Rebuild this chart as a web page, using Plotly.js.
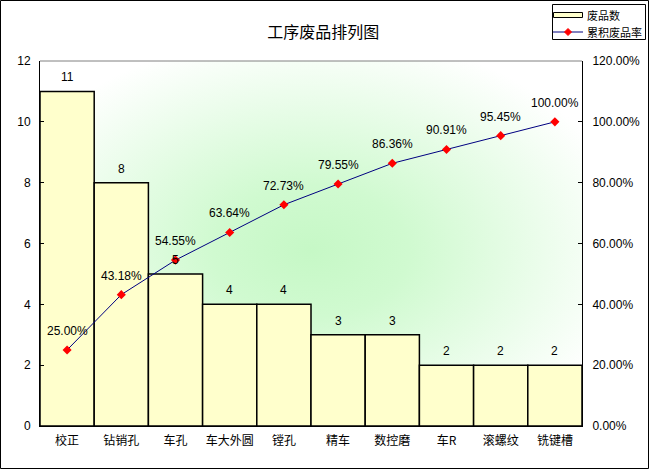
<!DOCTYPE html>
<html>
<head>
<meta charset="utf-8">
<script src="https://cdn.plot.ly/plotly-3.0.1.min.js"></script>
<style>
  html, body { margin: 0; padding: 0; background: #fff; }
  #chart { width: 649px; height: 469px; }
</style>
</head>
<body>
<div id="chart"></div>
<script>
// 数据
const categories = ['校正', '钻销孔', '车孔', '车大外圆', '镗孔', '精车', '数控磨', '车R', '滚螺纹', '铣键槽'];
const defects = [11, 8, 5, 4, 4, 3, 3, 2, 2, 2];
const cumRate = [0.25, 0.4318, 0.5455, 0.6364, 0.7273, 0.7955, 0.8636, 0.9091, 0.9545, 1.0];
const seriesNames = ['废品数', '累积废品率'];

const W = 649, H = 469;
const M = { l: 40, r: 67, t: 61, b: 43, autoexpand: false };
const pw = W - M.l - M.r, ph = H - M.t - M.b;

// 像素 -> paper 坐标
const px = x => (x - M.l) / pw;
const py = y => (H - M.b - y) / ph;

// 绘图区的径向渐变背景
function gradientImage() {
    const c = document.createElement('canvas');
    c.width = pw; c.height = ph;
    const g = c.getContext('2d');
    g.fillStyle = '#ffffff';
    g.fillRect(0, 0, pw, ph);
    g.save();
    g.translate(pw * 0.5, ph * 0.52);
    g.scale(1, ph / pw);
    const rg = g.createRadialGradient(0, 0, 0, 0, 0, pw * 0.6);
    rg.addColorStop(0, 'rgb(198,248,198)');
    rg.addColorStop(0.3, 'rgb(208,250,208)');
    rg.addColorStop(1, 'rgb(255,255,255)');
    g.fillStyle = rg;
    g.fillRect(-pw, -pw, pw * 2, pw * 2);
    g.restore();
    return c.toDataURL('image/png');
}

const cjk = '"Noto Sans CJK SC", "Liberation Sans", sans-serif';
const latin = '"Liberation Sans", Arial, sans-serif';

const barTrace = {
    type: 'bar', name: seriesNames[0],
    x: categories, y: defects,
    marker: { color: '#ffffcc', line: { color: '#000', width: 1.5 } }
};
const lineTrace = {
    type: 'scatter', mode: 'lines+markers', name: seriesNames[1],
    x: categories, y: cumRate, yaxis: 'y2',
    line: { color: '#000080', width: 1 },
    marker: { color: '#ff0000', symbol: 'diamond', size: 7 }
};

// 数值标签
let annotations = [];
defects.forEach((v, i) => annotations.push({
    x: categories[i], y: v, xref: 'x', yref: 'y', text: String(v),
    showarrow: false, yanchor: 'middle', yshift: 14,
    font: { family: latin, size: 12, color: '#000' }
}));
cumRate.forEach((v, i) => annotations.push({
    x: categories[i], y: v, xref: 'x', yref: 'y2', text: (v * 100).toFixed(2) + '%',
    showarrow: false, yanchor: 'middle', yshift: 19,
    font: { family: latin, size: 12, color: '#000' }
}));

// 图例 (手工绘制)
seriesNames.forEach((n, i) => annotations.push({
    x: px(585), y: py(i === 0 ? 15 : 32), xref: 'paper', yref: 'paper', text: n,
    showarrow: false, xanchor: 'left', yanchor: 'middle',
    font: { family: cjk, size: 11, color: '#000' }
}));

const shapes = [
    // 顶部灰线
    { type: 'line', xref: 'paper', yref: 'paper', x0: 0, x1: 1, y0: 1, y1: 1,
      line: { color: '#808080', width: 1 } },
    // 外框
    { type: 'rect', xref: 'paper', yref: 'paper', x0: px(0.5), x1: px(W - 0.5),
      y0: py(H - 0.5), y1: py(0.5), line: { color: '#000', width: 1 } },
    // 图例框
    { type: 'rect', xref: 'paper', yref: 'paper', x0: px(552.5), x1: px(645.5),
      y0: py(39.5), y1: py(4.5), fillcolor: '#ffffff', line: { color: '#000', width: 1 } },
    { type: 'rect', xref: 'paper', yref: 'paper', x0: px(553.5), x1: px(582.5),
      y0: py(17.5), y1: py(12.5), fillcolor: '#ffffcc', line: { color: '#000', width: 1 } },
    { type: 'line', xref: 'paper', yref: 'paper', x0: px(553), x1: px(583),
      y0: py(32), y1: py(32), line: { color: '#000080', width: 1 } },
    { type: 'path', xref: 'paper', yref: 'paper',
      path: `M ${px(568)} ${py(28.5)} L ${px(571.5)} ${py(32)} L ${px(568)} ${py(35.5)} L ${px(564.5)} ${py(32)} Z`,
      fillcolor: '#ff0000', line: { color: '#ff0000', width: 1 } }
];

const layout = {
    width: W, height: H,
    margin: M,
    paper_bgcolor: '#ffffff', plot_bgcolor: 'rgba(0,0,0,0)',
    showlegend: false,
    title: {
        text: '工序废品排列图',
        font: { family: cjk, size: 16, color: '#000' },
        xref: 'container', yref: 'container', x: 0.498, y: 1 - 32 / H,
        xanchor: 'center', yanchor: 'middle'
    },
    bargap: 0,
    xaxis: {
        type: 'category', range: [-0.5, categories.length - 0.5],
        showgrid: false, showline: true, linecolor: '#000', linewidth: 1,
        ticks: '', ticklabelstandoff: 4, automargin: false,
        tickfont: { family: cjk, size: 12, color: '#000' }, zeroline: false
    },
    yaxis: {
        range: [0, 12], dtick: 2, showgrid: false, showline: true, linecolor: '#000', linewidth: 1,
        ticks: 'inside', ticklen: 4, tickcolor: '#000', ticklabelstandoff: 6, automargin: false,
        tickfont: { family: latin, size: 12, color: '#000' }, zeroline: false
    },
    yaxis2: {
        overlaying: 'y', side: 'right', range: [0, 1.2], dtick: 0.2, tickformat: '.2%',
        showgrid: false, showline: true, linecolor: '#000', linewidth: 1, automargin: false,
        ticks: 'inside', ticklen: 4, tickcolor: '#000', ticklabelstandoff: 7,
        tickfont: { family: latin, size: 12, color: '#000' }, zeroline: false
    },
    images: [{
        source: gradientImage(), xref: 'paper', yref: 'paper',
        x: 0, y: 1, sizex: 1, sizey: 1, sizing: 'stretch', layer: 'below',
        xanchor: 'left', yanchor: 'top'
    }],
    shapes: shapes,
    annotations: annotations
};

Plotly.newPlot('chart', [barTrace, lineTrace], layout, { displayModeBar: false, staticPlot: true });
</script>
</body>
</html>
